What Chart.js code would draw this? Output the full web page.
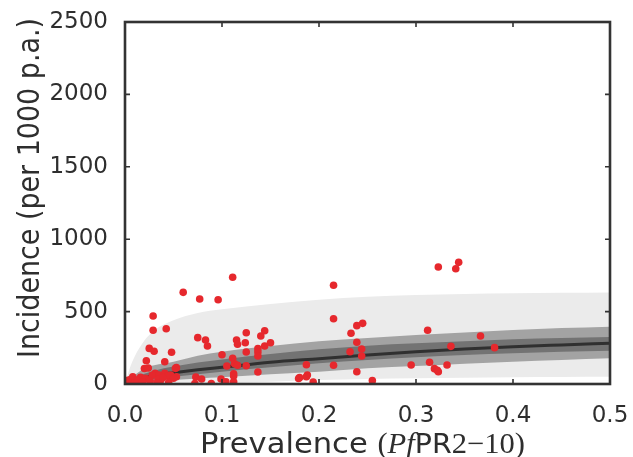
<!DOCTYPE html>
<html>
<head>
<meta charset="utf-8">
<script src="https://cdn.jsdelivr.net/npm/chart.js@4/dist/chart.umd.min.js"></script>
<style>
  html, body { margin: 0; padding: 0; background: #ffffff; }
  #wrap { position: relative; width: 633px; height: 457px; }
</style>
</head>
<body>
<div id="wrap"><canvas id="c" width="633" height="457"></canvas></div>
<script>
// ---- Data ----
const xTicks = [0.0, 0.1, 0.2, 0.3, 0.4, 0.5];
const yTicks = [0, 500, 1000, 1500, 2000, 2500];

// band grid (prevalence)
const bandX      = [0, 0.005, 0.01, 0.02, 0.03, 0.05, 0.075, 0.1, 0.15, 0.2, 0.25, 0.3, 0.35, 0.4, 0.45, 0.5];
const outerUpper = [0, 110, 190, 300, 370, 440, 490, 516, 552, 582, 602, 615, 622, 626, 630, 632];
const outerLower = [0, 0, 0, 0, 0, 0, 3, 7, 16, 28, 35, 39, 43, 47, 49, 50];
const midUpper   = [0, 30, 60, 108, 130, 154, 195, 223, 262, 295, 318, 338, 356, 373, 386, 396];
const midLower   = [0, 2, 5, 10, 18, 28, 38, 46, 67, 85, 108, 124, 140, 154, 166, 177];
const innerUpper = [0, 22, 40, 70, 92, 120, 148, 170, 207, 240, 265, 281, 296, 309, 318, 325];
const innerLower = [0, 8, 14, 25, 35, 50, 68, 85, 115, 143, 165, 184, 200, 212, 222, 230];
const median     = [0, 16, 28, 45, 60, 78, 98, 115, 150, 175, 200, 223, 242, 258, 270, 281];

// observed points
const obsPrev = [
  0.111, 0.060, 0.077, 0.096, 0.215, 0.215, 0.029, 0.029, 0.0425, 0.075, 0.083, 0.085, 0.025, 0.030, 0.048, 0.022, 0.041, 0.020, 0.024, 0.053, 0.053,
  0.115, 0.116, 0.125, 0.124, 0.125, 0.140, 0.144, 0.144, 0.150, 0.137, 0.137, 0.137, 0.137, 0.100, 0.111, 0.105, 0.113, 0.116, 0.125, 0.112, 0.112, 0.099, 0.104, 0.112, 0.089, 0.073, 0.079, 0.072,
  0.187, 0.188, 0.187, 0.179, 0.180, 0.194,
  0.233, 0.239, 0.245, 0.239, 0.244, 0.232, 0.244, 0.215, 0.239, 0.255,
  0.323, 0.341, 0.344, 0.312, 0.3665, 0.336, 0.381, 0.295, 0.314, 0.332, 0.319, 0.322, 0.323,
  0.0036, 0.006, 0.008, 0.012, 0.016, 0.021, 0.004, 0.010, 0.013, 0.025, 0.031, 0.035, 0.037, 0.041, 0.047, 0.052, 0.034, 0.044, 0.050, 0.028, 0.026, 0.045, 0.033, 0.002, 0.018, 0.039
];
const obsInc = [
  737, 633, 587, 582, 682, 451, 470, 371, 382, 320, 304, 262, 246, 226, 219, 161, 154, 107, 110, 113, 50,
  304, 274, 354, 285, 221, 331, 368, 262, 285, 244, 221, 193, 83, 202, 177, 124, 140, 130, 126, 70, 55, 35, 15, 15, 3, 48, 35, 3,
  133, 62, 50, 38, 45, 14,
  350, 403, 419, 288, 242, 223, 193, 129, 85, 23,
  808, 796, 840, 371, 331, 260, 251, 131, 150, 131, 106, 95, 85,
  28, 30, 50, 28, 46, 39, 10, 8, 20, 28, 74, 62, 28, 74, 62, 108, 30, 55, 40, 60, 20, 10, 5, 3, 16, 45
];

// ---- build datasets ----
const pts = (xs, ys) => xs.map((x, i) => ({ x: x, y: ys[i] }));
const C_OUTER = '#ebebeb', C_MID = '#a3a3a3', C_INNER = '#737373', C_MED = '#303030';

function bandPair(lower, upper, color, order) {
  return [
    { data: pts(bandX, lower), showLine: true, pointRadius: 0, borderWidth: 0, borderColor: 'rgba(0,0,0,0)',
      fill: false, cubicInterpolationMode: 'monotone', order: order },
    { data: pts(bandX, upper), showLine: true, pointRadius: 0, borderWidth: 0, borderColor: 'rgba(0,0,0,0)',
      backgroundColor: color, fill: '-1', cubicInterpolationMode: 'monotone', order: order }
  ];
}

const datasets = [
  { data: pts(obsPrev, obsInc), pointRadius: 3.8, pointHoverRadius: 3.8, pointBackgroundColor: 'rgb(230,40,45)',
    pointBorderWidth: 0, borderColor: 'rgba(0,0,0,0)', showLine: false, order: 0 },
  { data: pts(bandX, median), showLine: true, pointRadius: 0, borderWidth: 3, borderColor: C_MED,
    fill: false, cubicInterpolationMode: 'monotone', order: 1 },
  ...bandPair(innerLower, innerUpper, C_INNER, 2),
  ...bandPair(midLower, midUpper, C_MID, 3),
  ...bandPair(outerLower, outerUpper, C_OUTER, 4)
];

const TEXT = '#2e2e2e';

const framePlugin = {
  id: 'frame',
  afterDatasetsDraw(chart) {
    const { ctx, chartArea: a, scales } = chart;
    ctx.save();
    ctx.strokeStyle = '#333333';
    ctx.lineWidth = 1.6;
    const L = 5;
    xTicks.forEach(v => {
      const p = scales.x.getPixelForValue(v);
      ctx.beginPath();
      ctx.moveTo(p, a.bottom); ctx.lineTo(p, a.bottom - L);
      ctx.moveTo(p, a.top); ctx.lineTo(p, a.top + L);
      ctx.stroke();
    });
    yTicks.forEach(v => {
      const p = scales.y.getPixelForValue(v);
      ctx.beginPath();
      ctx.moveTo(a.left, p); ctx.lineTo(a.left + L, p);
      ctx.moveTo(a.right, p); ctx.lineTo(a.right - L, p);
      ctx.stroke();
    });
    ctx.lineWidth = 2.6;
    ctx.strokeRect(a.left, a.top, a.right - a.left, a.bottom - a.top);
    ctx.restore();
  },
  afterDraw(chart) {
    const { ctx } = chart;
    ctx.save();
    ctx.fillStyle = TEXT;
    // y title
    const yt = 'Incidence (per 1000 p.a.)';
    ctx.font = '27px "DejaVu Sans"';
    const wy = ctx.measureText(yt).width;
    ctx.translate(39, 188);
    ctx.scale(1.14, 1);
    ctx.rotate(-Math.PI / 2);
    ctx.scale(340 / wy, 1);
    ctx.textAlign = 'center';
    ctx.textBaseline = 'alphabetic';
    ctx.fillText(yt, 0, 0);
    ctx.restore();

    // x title with math parts
    ctx.save();
    ctx.fillStyle = TEXT;
    const segs = [
      { t: 'Prevalence ', f: '29px "DejaVu Sans"' },
      { t: '(', f: '29px "Liberation Serif"' },
      { t: 'Pf', f: 'italic 29px "Liberation Serif"' },
      { t: 'PR', f: '27px "DejaVu Sans"' },
      { t: '2\u221210', f: '29px "Liberation Serif"' },
      { t: ')', f: '29px "Liberation Serif"' }
    ];
    let W = 0;
    segs.forEach(s => { ctx.font = s.f; s.w = ctx.measureText(s.t).width; W += s.w; });
    const targetW = 325;
    ctx.translate(200, 452.5);
    ctx.scale(targetW / W, 1);
    ctx.textBaseline = 'alphabetic';
    ctx.textAlign = 'left';
    let x = 0;
    segs.forEach(s => { ctx.font = s.f; ctx.fillText(s.t, x, 0); x += s.w; });
    ctx.restore();
  }
};

new Chart(document.getElementById('c'), {
  type: 'scatter',
  data: { datasets: datasets },
  options: {
    responsive: false,
    animation: false,
    events: [],
    layout: { padding: { top: 22, right: 23, left: 0, bottom: 0 } },
    plugins: { legend: { display: false }, tooltip: { enabled: false } },
    scales: {
      x: {
        type: 'linear', min: 0, max: 0.5,
        grid: { display: false }, border: { display: false },
        ticks: { stepSize: 0.1, padding: 10, color: TEXT, font: { family: 'DejaVu Sans', size: 23 },
                 callback: v => v.toFixed(1), maxRotation: 0 },
        afterFit: s => { s.height = 73; s.paddingLeft = 0; s.paddingRight = 0; }
      },
      y: {
        type: 'linear', min: 0, max: 2500,
        grid: { display: false }, border: { display: false },
        ticks: { stepSize: 500, padding: 9, color: TEXT, font: { family: 'DejaVu Sans', size: 23 },
                 callback: v => String(v) },
        afterFit: s => { s.width = 125; s.paddingTop = 0; s.paddingBottom = 0; }
      }
    }
  },
  plugins: [framePlugin]
});
</script>
</body>
</html>
